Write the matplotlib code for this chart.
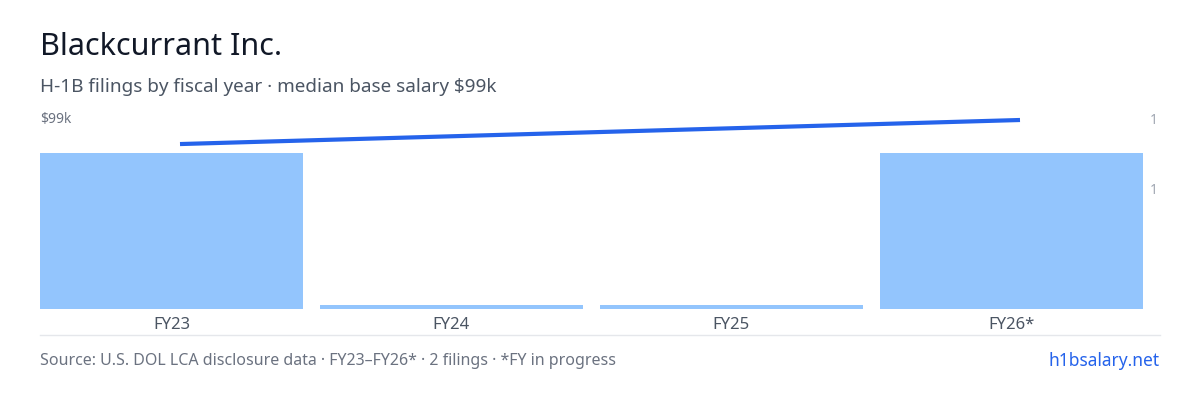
import numpy as np
import matplotlib.pyplot as plt

years = ['FY23', 'FY24', 'FY25', 'FY26*']
filings = [1, 0.025, 0.025, 1]
line_x = [0, 3]
salary = [86400, 99000]

plt.rcParams['font.family'] = ['Noto Sans', 'DejaVu Sans']
W, H = 1200, 400
fig = plt.figure(figsize=(12, 4), dpi=100, facecolor='w')

# axes: x 40..1160 px, y 115..309 px
ax = fig.add_axes([40 / W, (H - 309) / H, 1120 / W, 194 / H])
x = np.arange(len(years))
bx = x - 8.5 / 280  # bars sit left in their slot
ax.bar(bx, filings, width=263 / 280, color='#93c5fd')
ax.set_xlim(-0.5, 3.5)
ax.set_ylim(0, 194 / 156)
ax.set_xticks(bx)
ax.set_xticklabels(years, fontsize=12, color='#4b5563')
ax.tick_params(length=0, pad=6)
ax.set_yticks([])
for s in ax.spines.values():
    s.set_visible(False)
ax.patch.set_alpha(0)

ax2 = ax.twinx()
ax2.plot(line_x, salary, color='#2563eb', lw=3, solid_capstyle='butt')
ax2.set_ylim(0, 99000 * 194 / 189)
ax2.set_yticks([])
for s in ax2.spines.values():
    s.set_visible(False)

fig.text(40 / W, 1 - 47 / H, 'Blackcurrant Inc.', fontsize=22, color='#111827', va='center')
fig.text(40 / W, 1 - 87 / H, 'H-1B filings by fiscal year · median base salary $99k',
         fontsize=13.6, color='#4b5563', va='center')
fig.text(40 / W, 1 - 120 / H, '$99k', fontsize=10, color='#6b7280', va='center')
fig.text(1158 / W, 1 - 120 / H, '1', fontsize=10, color='#9ca3af', va='center', ha='right')
fig.text(1158 / W, 1 - 191 / H, '1', fontsize=10, color='#9ca3af', va='center', ha='right')
fig.add_artist(plt.Line2D([40 / W, 1160 / W], [1 - 335 / H] * 2, color='#e5e7eb', lw=1))
fig.text(40 / W, 1 - 361 / H, 'Source: U.S. DOL LCA disclosure data · FY23–FY26* · 2 filings · *FY in progress',
         fontsize=11.5, color='#6b7280', va='center')
fig.text(1160 / W, 1 - 361 / H, 'h1bsalary.net', fontsize=12.5, color='#2563eb', va='center', ha='right')

fig.savefig('out.png', dpi=100)
